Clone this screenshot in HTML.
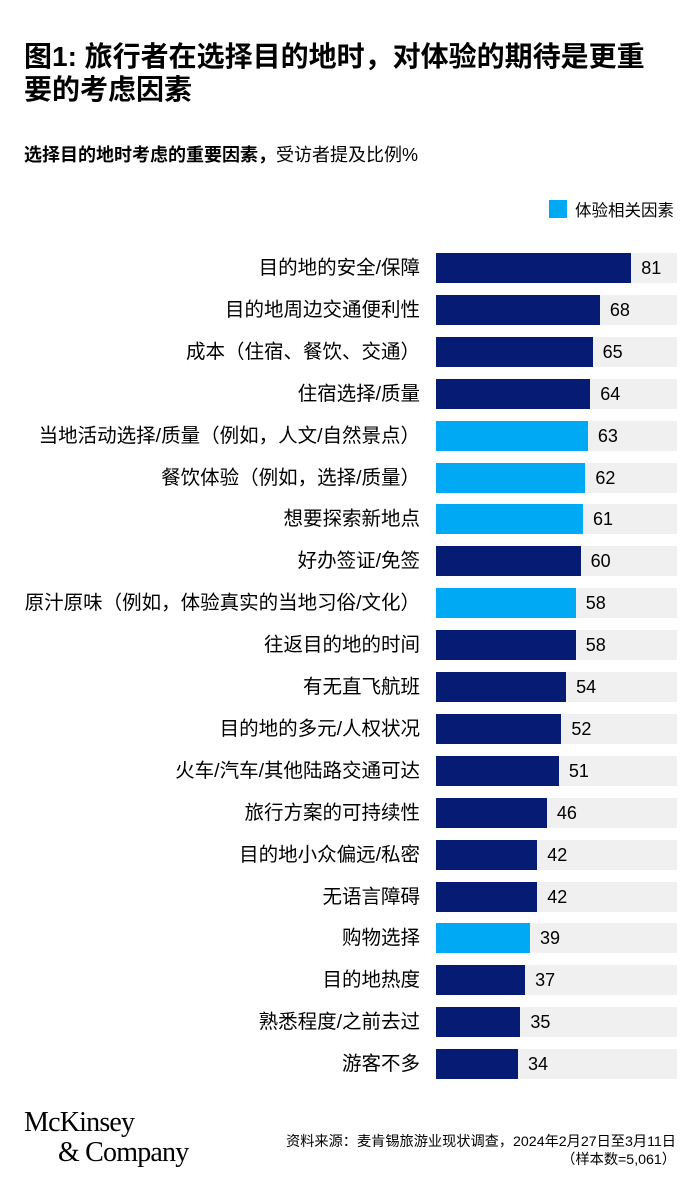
<!DOCTYPE html>
<html><head><meta charset="utf-8"><style>
body{margin:0;width:700px;height:1203px;background:#fff;position:relative;font-family:"Liberation Sans","Noto Sans CJK SC",sans-serif;color:#000;overflow:hidden}
.a{position:absolute}
.t{left:24px;top:40px;font-size:28px;font-weight:bold;line-height:33px;width:640px}
.s{left:24px;top:141px;font-size:18px;font-weight:bold}
.lab{position:absolute;right:280px;font-size:19.5px;white-space:nowrap;line-height:30px;text-align:right}
.bg{position:absolute;left:436px;width:241px;height:30px;background:#f0f0f0}
.bar{position:absolute;left:436px;height:30px}
.v{position:absolute;font-size:18px;line-height:30px}
</style></head><body>
<div class="a t">图1: 旅行者在选择目的地时，对体验的期待是更重要的考虑因素</div>
<div class="a s">选择目的地时考虑的重要因素，<span style="font-weight:normal">受访者提及比例%</span></div>
<div class="a" style="left:549px;top:200px;width:18px;height:18px;background:#00a9f4"></div>
<div class="a" style="left:575px;top:197px;font-size:16.5px">体验相关因素</div>
<div id="c"></div>
<div class="a" style="left:24px;top:1108px;font-family:'Liberation Serif',serif;font-size:28px;line-height:30px;letter-spacing:-0.8px">McKinsey<br><span style="padding-left:34px">&amp; Company</span></div>
<div class="a" style="right:24px;top:1133px;font-size:14.2px;line-height:18px;text-align:right">资料来源：麦肯锡旅游业现状调查，2024年2月27日至3月11日<br>（样本数=5,061）</div>
<script>
var d=[["目的地的安全/保障",81,0],["目的地周边交通便利性",68,0],["成本（住宿、餐饮、交通）",65,0],["住宿选择/质量",64,0],["当地活动选择/质量（例如，人文/自然景点）",63,1],["餐饮体验（例如，选择/质量）",62,1],["想要探索新地点",61,1],["好办签证/免签",60,0],["原汁原味（例如，体验真实的当地习俗/文化）",58,1],["往返目的地的时间",58,0],["有无直飞航班",54,0],["目的地的多元/人权状况",52,0],["火车/汽车/其他陆路交通可达",51,0],["旅行方案的可持续性",46,0],["目的地小众偏远/私密",42,0],["无语言障碍",42,0],["购物选择",39,1],["目的地热度",37,0],["熟悉程度/之前去过",35,0],["游客不多",34,0]];
var h="";d.forEach(function(r,i){var y=253+i*41.9,w=r[1]*2.41;
h+='<div class="lab" style="top:'+y+'px">'+r[0]+'</div><div class="bg" style="top:'+y+'px"></div><div class="bar" style="top:'+y+'px;width:'+w+'px;background:'+(r[2]?'#00a9f4':'#061c74')+'"></div><div class="v" style="top:'+y+'px;left:'+(436+w+10)+'px">'+r[1]+'</div>';});
document.getElementById("c").innerHTML=h;
</script>
</body></html>
